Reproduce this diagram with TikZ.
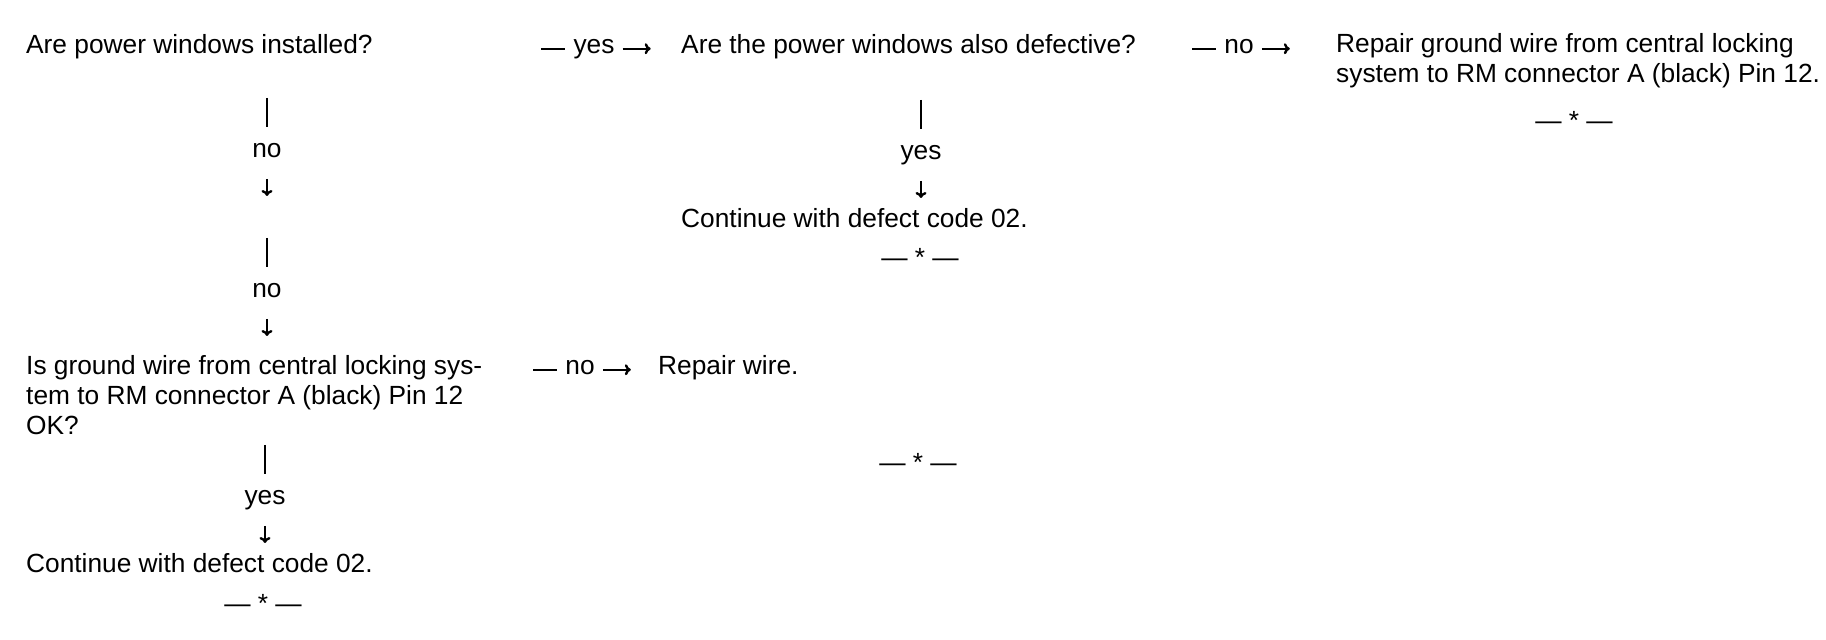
\documentclass[tikz,border=0pt]{standalone}
\usepackage{fontspec}
\setmainfont{Liberation Sans}
\usetikzlibrary{positioning,arrows.meta}

\begin{document}
\begin{tikzpicture}[x=0.5pt, y=-0.5pt, line width=1.2pt,
		>={To[length=3pt,width=5.5pt]},
		every node/.style={font=\fontsize{13.15pt}{15pt}\selectfont, inner sep=0pt},
		main node/.style={anchor=base west, align=left},
		side label/.style={anchor=base, inner xsep=3.5pt},
		down label/.style={text height=7pt, text depth=2.8pt, inner ysep=7.5pt}]
		\useasboundingbox (0,0) rectangle (1826,640);
		
		% base of a multi-line node is its last line
		\node[main node] (q1) at (25,54) {Are power windows installed?};
		\node[main node] (q2) at (680,54) {Are the power windows also defective?};
		\node[main node] (r1) at (1335,83) {Repair ground wire from central locking\\system to RM connector A (black) Pin 12.};
		\node (e1) at (1574,120) {— * —};
		\node[main node] (c2) at (680,228) {Continue with defect code 02.};
		\node (e2) at (920,257) {— * —};
		\node[main node] (q3) at (25,435) {Is ground wire from central locking sys-\\tem to RM connector A (black) Pin 12\\OK?};
		\node[main node] (r2) at (657,375) {Repair wire.};
		\node (e3) at (918,462) {— * —};
		\node[main node] (c1) at (25,573) {Continue with defect code 02.};
		\node (e4) at (263,603) {— * —};
		
		% branch labels
		\node[side label] (yes1) at (594,54) {yes};
		\node[side label] (no1) at (1239,54) {no};
		\node[side label] (no4) at (580,375) {no};
		\node[down label] (no2) at (267,153) {no};
		\node[down label] (no3) at (267,293) {no};
		\node[down label] (yes2) at (921,155) {yes};
		\node[down label] (yes3) at (265,500) {yes};
		
		\foreach \n in {yes1,no1,no4} {
			\coordinate[left=12pt of \n.mid west] (\n in);
			\coordinate[right=14pt of \n.mid east] (\n out);
			\draw (\n in) -- (\n.mid west);
			\draw[->] (\n.mid east) -- (\n out);
		}
		\foreach \n in {no2,no3,yes2,yes3} {
			\coordinate[above=14.5pt of \n] (\n in);
			\coordinate[below=8.5pt of \n] (\n out);
			\draw (\n in) -- (\n);
			\draw[->] (\n) -- (\n out);
		}
\end{tikzpicture}
\end{document}
